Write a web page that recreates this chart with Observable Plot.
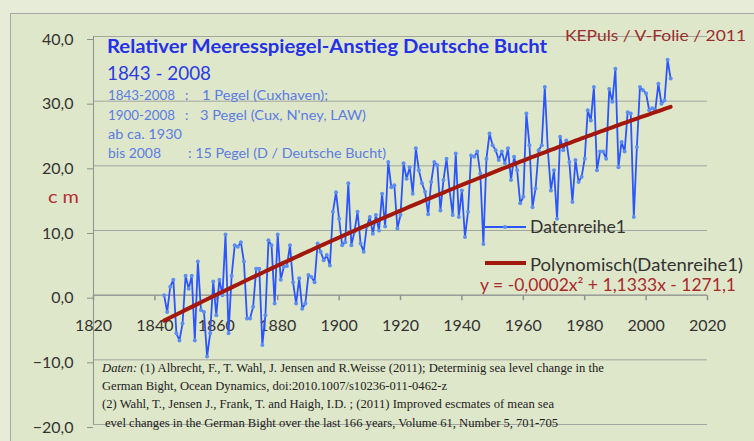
<!DOCTYPE html>
<html><head><meta charset="utf-8">
<script src="https://cdn.jsdelivr.net/npm/d3@7"></script>
<script src="https://cdn.jsdelivr.net/npm/@observablehq/plot@0.6"></script>
<style>
html,body{margin:0;padding:0;background:#e7ecd8;}
#chart{position:relative;width:754px;height:441px;overflow:hidden;}
svg{overflow:hidden;}
</style></head><body><div id="chart"></div>
<script>
const years = [1843,1844,1845,1846,1847,1848,1849,1850,1851,1852,1853,1854,1855,1856,1857,1858,1859,1860,1861,1862,
1863,1864,1865,1866,1867,1868,1869,1870,1871,1872,1873,1874,1875,1876,1877,1878,1879,1880,1881,1882,
1883,1884,1885,1886,1887,1888,1889,1890,1891,1892,1893,1894,1895,1896,1897,1898,1899,1900,1901,1902,
1903,1904,1905,1906,1907,1908,1909,1910,1911,1912,1913,1914,1915,1916,1917,1918,1919,1920,1921,1922,
1923,1924,1925,1926,1927,1928,1929,1930,1931,1932,1933,1934,1935,1936,1937,1938,1939,1940,1941,1942,
1943,1944,1945,1946,1947,1948,1949,1950,1951,1952,1953,1954,1955,1956,1957,1958,1959,1960,1961,1962,
1963,1964,1965,1966,1967,1968,1969,1970,1971,1972,1973,1974,1975,1976,1977,1978,1979,1980,1981,1982,
1983,1984,1985,1986,1987,1988,1989,1990,1991,1992,1993,1994,1995,1996,1997,1998,1999,2000,2001,2002,
2003,2004,2005,2006,2007,2008];
const values = [0.0,-2.6,1.3,2.4,-5.9,-7.0,-4.4,3.0,1.0,3.0,
-7.0,5.2,-2.3,-2.6,-9.5,-5.9,2.1,-3.1,2.4,0.0,
9.4,-5.9,3.0,7.7,7.5,8.2,5.2,-3.6,-3.6,-1.8,
4.1,4.1,-7.7,-3.1,8.5,7.7,-1.3,9.4,2.4,4.4,
4.5,7.7,2.0,-1.3,2.6,-2.1,-1.3,3.1,2.8,2.0,
8.0,6.7,5.4,6.2,4.6,12.9,15.9,11.8,7.7,8.2,
17.3,7.7,9.8,12.9,8.0,6.7,10.6,12.1,9.5,12.4,
10.0,15.7,10.6,20.6,16.7,17.0,10.3,12.4,20.4,18.0,
19.8,15.7,22.7,19.3,17.3,16.0,12.5,17.5,20.6,20.1,
13.1,17.8,21.1,16.2,12.4,21.9,12.1,16.2,9.0,12.9,
21.6,21.4,22.2,18.8,7.9,21.1,25.0,23.2,22.4,20.9,
22.2,20.4,22.7,17.8,21.4,19.3,14.2,15.2,28.1,23.2,
13.6,16.5,22.4,23.2,32.2,22.4,16.2,19.3,11.8,24.5,
22.4,23.9,20.6,14.4,20.9,17.5,18.3,21.1,28.6,27.0,
32.2,19.3,22.2,22.2,21.1,31.9,29.9,35.0,19.8,23.7,
22.2,28.3,28.1,12.1,22.9,32.2,31.7,31.2,28.6,28.9,
28.6,32.7,29.6,30.1,36.4,33.5];
const xTicks = [1820,1840,1860,1880,1900,1920,1940,1960,1980,2000,2020];
const yTicks = [-20,-10,0,10,20,30,40];
const seriesName = "Datenreihe1";
const trendName = "Polynomisch(Datenreihe1)";
const equation = "y = -0,0002x\u00B2 + 1,1333x - 1271,1";

const data = years.map((y,i)=>({year:y, value:values[i]}));

// quadratic least-squares trend from the data
function quadFit(xs, ys){
  const x0 = d3.mean(xs);
  const S=[0,0,0,0,0], T=[0,0,0];
  xs.forEach((x,i)=>{const t=x-x0; let p=1; for(let k=0;k<5;k++){S[k]+=p; if(k<3) T[k]+=p*ys[i]; p*=t;}});
  const M=[[S[0],S[1],S[2]],[S[1],S[2],S[3]],[S[2],S[3],S[4]]];
  const det=m=>m[0][0]*(m[1][1]*m[2][2]-m[1][2]*m[2][1])-m[0][1]*(m[1][0]*m[2][2]-m[1][2]*m[2][0])+m[0][2]*(m[1][0]*m[2][1]-m[1][1]*m[2][0]);
  const D=det(M);
  const c=[0,1,2].map(j=>det(M.map((row,r)=>row.map((v,k)=>k===j?T[r]:v)))/D);
  return x=>{const t=x-x0; return c[0]+c[1]*t+c[2]*t*t;};
}
const f = quadFit(years, values);
const trend = years.map(y=>({year:y, value:f(y)}));

const fmt = d=>d3.format(".1f")(d).replace(".",",");
const tickSym = {draw(ctx,size){ctx.moveTo(0,0); ctx.lineTo(0,5);}};

const plot = Plot.plot({
  width:754, height:441,
  marginLeft:93, marginRight:47, marginTop:36, marginBottom:17,
  style:{background:"transparent", fontFamily:"Lato, sans-serif", overflow:"visible"},
  x:{domain:[1820,2020], axis:null},
  y:{domain:[-20,40], axis:null},
  marks:[
    Plot.gridY(yTicks,{stroke:"#8f8f8f", strokeOpacity:0.75, strokeWidth:1}),
    Plot.ruleX([1820],{stroke:"#8f8f8f", strokeWidth:1}),
    Plot.axisY(yTicks,{tickSize:6, tickPadding:14, tickFormat:fmt, fontSize:16, fill:"#333", stroke:"#8f8f8f", label:null, dy:3}),
    Plot.ruleY([0],{stroke:"#8f8f8f", strokeWidth:1}),
    Plot.dot(xTicks,{x:d=>d, y:()=>0, symbol:tickSym, stroke:"#8f8f8f", fill:"none", r:5}),
    Plot.text(xTicks,{x:d=>d, y:()=>0, text:d=>String(d), dy:31, fontSize:16, fill:"#333"}),
    Plot.line(data,{x:"year", y:"value", stroke:"#2a55ff", strokeWidth:1.8}),
    Plot.dot(data,{x:"year", y:"value", r:2, fill:"#5d8ff2", stroke:null}),
    Plot.line(trend,{x:"year", y:"value", stroke:"#a3180c", strokeWidth:4})
  ]
});
document.getElementById("chart").appendChild(plot);

const svg = d3.select(plot);
svg.insert("rect",":first-child").attr("x",10.5).attr("y",13.5).attr("width",800).attr("height",500)
  .attr("fill","#dfe7ca").attr("stroke","#a8a8a8");
const g = svg.append("g").attr("text-anchor","start");

function txt(s,x,y,o={}){
  const t = g.append("text").attr("x",x).attr("y",y).text(s).attr("text-anchor","start")
    .attr("font-family",o.family||"Lato, sans-serif").attr("font-size",o.size||14)
    .attr("fill",o.fill||"#333").attr("font-weight",o.weight||"normal");
  if(o.len){t.attr("textLength",o.len).attr("lengthAdjust","spacingAndGlyphs");}
  if(o.style) t.attr("font-style",o.style);
  return t;
}
// titles
txt("Relativer Meeresspiegel-Anstieg Deutsche Bucht",107,53,{size:19,weight:"bold",fill:"#2431e6",len:440});
txt("1843 - 2008",107,80,{size:19,fill:"#2b3de2",len:104});
const sc="#5a7ce3";
txt("1843-2008",108,100,{size:13.5,fill:sc,len:67});
txt(":",185,100,{size:13.5,fill:sc});
txt("1 Pegel (Cuxhaven);",202,100,{size:13.5,fill:sc,len:126});
txt("1900-2008",108,120,{size:13.5,fill:sc,len:67});
txt(":",185,120,{size:13.5,fill:sc});
txt("3 Pegel (Cux, N'ney, LAW)",200,120,{size:13.5,fill:sc,len:166});
txt("ab ca. 1930",108,139,{size:13.5,fill:sc,len:74});
txt("bis 2008",108,158,{size:13.5,fill:sc,len:53});
txt(": 15 Pegel (D / Deutsche Bucht)",188,158,{size:13.5,fill:sc,len:198});
txt("KEPuls / V-Folie / 2011",565,41,{size:16,fill:"#9b2f2f",len:181});
txt("c m",48,203,{size:17,fill:"#b03232",len:31});
// legend
g.append("line").attr("x1",485).attr("x2",526).attr("y1",227).attr("y2",227).attr("stroke","#2a55ff").attr("stroke-width",1.8);
g.append("circle").attr("cx",505).attr("cy",227).attr("r",2).attr("fill","#5d8ff2");
txt(seriesName,530,233,{size:17,fill:"#333",len:96});
g.append("line").attr("x1",485).attr("x2",526).attr("y1",263).attr("y2",263).attr("stroke","#a3180c").attr("stroke-width",4);
txt(trendName,530,271,{size:17,fill:"#333",len:213});
txt(equation,480,291,{size:17,fill:"#a82a2a",len:256});
// references
const serif="'Liberation Serif', 'Times New Roman', serif";
const r1 = g.append("text").attr("x",102).attr("y",372).attr("text-anchor","start").attr("font-family",serif).attr("font-size",13.5).attr("fill","#222")
  .attr("textLength",502).attr("lengthAdjust","spacingAndGlyphs");
r1.append("tspan").attr("font-style","italic").text("Daten:");
r1.append("tspan").text(" (1) Albrecht, F., T. Wahl, J. Jensen and R.Weisse (2011); Determinig sea level change in the");
txt("German Bight, Ocean Dynamics, doi:2010.1007/s10236-011-0462-z",102,390,{family:serif,size:13.5,fill:"#222",len:345});
txt("(2) Wahl, T., Jensen J., Frank, T. and Haigh, I.D. ; (2011) Improved escmates of mean sea",102,408,{family:serif,size:13.5,fill:"#222",len:452});
txt("evel changes in the German Bight over the last 166 years, Volume 61, Number 5, 701-705",105,427,{family:serif,size:13.5,fill:"#222",len:453});
</script></body></html>
